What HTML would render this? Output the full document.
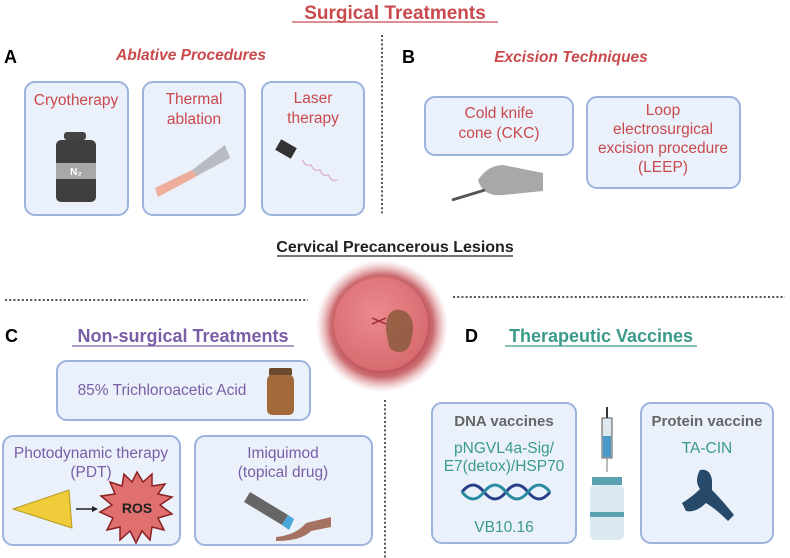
<!DOCTYPE html>
<html><head><meta charset="utf-8"><style>
html,body{margin:0;padding:0;background:#fff;}
svg{display:block;font-family:"Liberation Sans",sans-serif;}
</style></head><body>
<svg width="790" height="558" viewBox="0 0 790 558" xmlns="http://www.w3.org/2000/svg">
<defs>
<radialGradient id="glow" cx="50%" cy="50%" r="50%">
<stop offset="0.6" stop-color="#b03c44"/>
<stop offset="0.78" stop-color="#c4545a" stop-opacity="0.85"/>
<stop offset="1" stop-color="#e59a9c" stop-opacity="0"/>
</radialGradient>
<radialGradient id="cerv" cx="45%" cy="40%" r="60%">
<stop offset="0" stop-color="#ec8a8e"/>
<stop offset="1" stop-color="#d76b70"/>
</radialGradient>
</defs>
<g fill="#eaf1fb" stroke="#9db3de" stroke-width="2">
<rect x="25" y="82" width="103" height="133" rx="10"/>
<rect x="143" y="82" width="102" height="133" rx="10"/>
<rect x="262" y="82" width="102" height="133" rx="10"/>
<rect x="425" y="97" width="148" height="58" rx="10"/>
<rect x="587" y="97" width="153" height="91" rx="10"/>
<rect x="57" y="361" width="253" height="59" rx="10"/>
<rect x="3" y="436" width="177" height="109" rx="10"/>
<rect x="195" y="436" width="177" height="109" rx="10"/>
<rect x="432" y="403" width="144" height="140" rx="10"/>
<rect x="641" y="403" width="132" height="140" rx="10"/>
</g>
<g stroke="#555" stroke-width="2" stroke-dasharray="2,2.2">
<line x1="382" y1="35" x2="382" y2="214"/>
<line x1="5" y1="300" x2="308" y2="300"/>
<line x1="453" y1="297" x2="785" y2="297"/>
<line x1="385" y1="400" x2="385" y2="558"/>
</g>
<text x="395" y="19" text-anchor="middle" font-size="19" font-weight="bold" fill="#c9494d">Surgical Treatments</text>
<line x1="292" y1="22" x2="498" y2="22" stroke="#c9494d" stroke-width="1.2"/>
<g font-size="18" font-weight="bold" fill="#000">
<text x="4" y="63">A</text><text x="402" y="63">B</text>
<text x="5" y="342">C</text><text x="465" y="342">D</text>
</g>
<g font-size="15.5" font-weight="bold" font-style="italic" fill="#c9494d" text-anchor="middle">
<text x="191" y="60">Ablative Procedures</text>
<text x="571" y="62">Excision Techniques</text>
</g>
<g font-size="15.5" fill="#c9494d" text-anchor="middle">
<text x="76" y="105">Cryotherapy</text>
<text x="194" y="104">Thermal</text><text x="194" y="124">ablation</text>
<text x="313" y="103">Laser</text><text x="313" y="123">therapy</text>
<text x="499" y="118">Cold knife</text><text x="499" y="138">cone (CKC)</text>
<text x="663" y="115">Loop</text><text x="663" y="134">electrosurgical</text><text x="663" y="153">excision procedure</text><text x="663" y="172">(LEEP)</text>
</g>
<!-- N2 tank -->
<rect x="64" y="132" width="22" height="8" rx="3" fill="#444"/>
<rect x="56" y="140" width="40" height="62" rx="5" fill="#3f3f3f"/>
<rect x="56" y="163" width="40" height="16" fill="#a8a8a8"/>
<text x="76" y="175" font-size="10" fill="#fff" text-anchor="middle" font-weight="bold">N₂</text>
<!-- thermal probe -->
<polygon points="192,170 225,145 230,158 197,176" fill="#b8bcc2"/>
<polygon points="192,170 155,188 158,197 197,176" fill="#f09070" opacity="0.7"/>
<!-- laser -->
<rect x="277" y="143" width="18" height="12" fill="#333" transform="rotate(30 286 149)"/>
<path d="M300,170 q5,5 10,0 q5,5 10,0 q5,5 10,0 q5,5 10,0" stroke="#d9a0c0" fill="none" transform="rotate(30 320 170)"/>
<!-- hand with scalpel -->
<path d="M478,180 q10,-15 25,-15 l40,8 l0,18 l-40,4 q-20,2 -25,-15z" fill="#a8a8a8"/>
<line x1="452" y1="200" x2="485" y2="190" stroke="#555" stroke-width="3"/>
<text x="395" y="252" text-anchor="middle" font-size="16" font-weight="bold" fill="#222">Cervical Precancerous Lesions</text>
<line x1="277" y1="256" x2="513" y2="256" stroke="#222" stroke-width="1.2"/>
<!-- cervix -->
<circle cx="382" cy="326" r="66" fill="url(#glow)"/>
<circle cx="381" cy="324" r="47" fill="url(#cerv)"/>
<path d="M372,318 l14,6 M372,324 l14,-6" stroke="#a0303a" stroke-width="1.5"/>
<path d="M388,316 q6,-10 18,-4 q10,8 6,24 q-2,16 -12,16 q-12,0 -12,-12 q-4,-12 0,-24z" fill="#8c5a3c" opacity="0.85"/>
<text x="183" y="342" text-anchor="middle" font-size="18" font-weight="bold" fill="#7a5ea6">Non-surgical Treatments</text>
<line x1="72" y1="346" x2="294" y2="346" stroke="#7a5ea6" stroke-width="1.2"/>
<g font-size="15.5" fill="#7a5ea6" text-anchor="middle">
<text x="162" y="395">85% Trichloroacetic Acid</text>
<text x="91" y="458">Photodynamic therapy</text><text x="91" y="477">(PDT)</text>
<text x="283" y="458">Imiquimod</text><text x="283" y="477">(topical drug)</text>
</g>
<rect x="269" y="368" width="23" height="8" rx="2" fill="#6b4a2e"/>
<rect x="267" y="375" width="27" height="40" rx="5" fill="#a26a3a"/>
<polygon points="13,509 69,490 72,528" fill="#f0cc3a" stroke="#b59a20"/>
<line x1="76" y1="509" x2="94" y2="509" stroke="#222" stroke-width="1.5"/>
<polygon points="98,509 92,506 92,512" fill="#222"/>
<polygon points="137,472 143,482 152,474 152,486 165,484 158,494 172,497 160,505 172,514 158,518 164,530 152,527 150,540 142,531 136,543 130,531 120,540 120,527 107,530 113,518 100,512 112,505 101,496 115,494 110,482 122,486 124,474 132,482" fill="#e07070" stroke="#8a2020" stroke-width="1.5"/>
<text x="137" y="513" text-anchor="middle" font-size="14" font-weight="bold" fill="#222">ROS</text>
<polygon points="244,502 250,492 288,515 282,525" fill="#666"/>
<polygon points="282,525 288,515 294,519 289,530" fill="#4aa8d8"/>
<path d="M276,537 q20,-2 30,-14 l25,-6 l0,10 l-20,4 q-10,10 -35,10z" fill="#a57262"/>
<text x="601" y="342" text-anchor="middle" font-size="18" font-weight="bold" fill="#3b9a8a">Therapeutic Vaccines</text>
<line x1="505" y1="346" x2="697" y2="346" stroke="#3b9a8a" stroke-width="1.2"/>
<text x="504" y="426" text-anchor="middle" font-size="15" font-weight="bold" fill="#666">DNA vaccines</text>
<text x="707" y="426" text-anchor="middle" font-size="15" font-weight="bold" fill="#666">Protein vaccine</text>
<g font-size="15.5" fill="#3b9a8a" text-anchor="middle">
<text x="504" y="453">pNGVL4a-Sig/</text><text x="504" y="471">E7(detox)/HSP70</text>
<text x="504" y="532">VB10.16</text>
<text x="707" y="453">TA-CIN</text>
</g>
<path d="M462,492 q11,-14 22,0 q11,14 22,0 q11,-14 22,0 q11,14 22,0" stroke="#2a3f8a" stroke-width="3" fill="none"/>
<path d="M462,492 q11,14 22,0 q11,-14 22,0 q11,14 22,0 q11,-14 22,0" stroke="#2a8aa0" stroke-width="3" fill="none"/>
<line x1="607" y1="407" x2="607" y2="418" stroke="#333" stroke-width="2"/>
<rect x="602" y="418" width="10" height="40" fill="#dfe8ee" stroke="#555"/>
<rect x="603" y="436" width="8" height="21" fill="#4a9ac8"/>
<line x1="607" y1="458" x2="607" y2="472" stroke="#777"/>
<rect x="592" y="477" width="30" height="8" fill="#5aa0b0"/>
<rect x="590" y="485" width="34" height="55" rx="5" fill="#dbe9f0"/>
<rect x="590" y="512" width="34" height="5" fill="#5aa0b0"/>
<path d="M700,470 q10,-2 12,10 l0,10 q10,10 22,25 l-6,6 q-12,-12 -22,-18 q-10,10 -20,8 l-4,-8 q10,-6 18,-14 q-6,-8 0,-19z" fill="#274a6a"/>
</svg>
</body></html>
